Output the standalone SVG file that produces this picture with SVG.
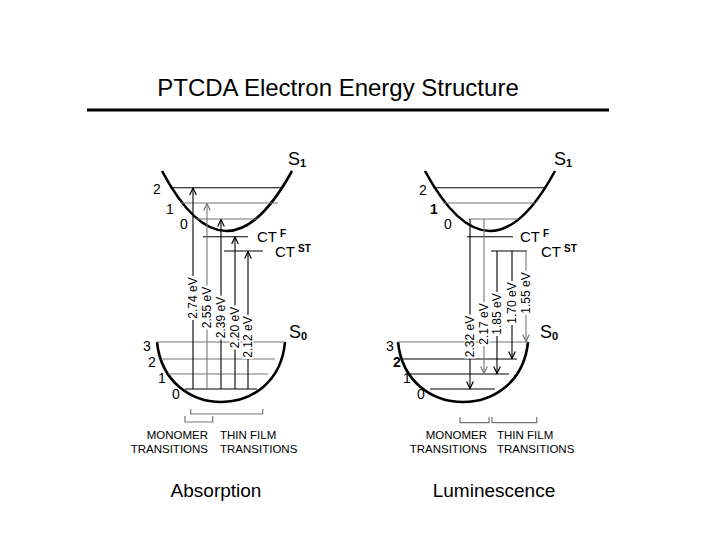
<svg xmlns="http://www.w3.org/2000/svg" width="720" height="540" viewBox="0 0 720 540">
<style>
text{font-family:"Liberation Sans",Arial,sans-serif;fill:#000}
.title{font-size:24px}
.cap{font-size:19px}
.lvl{font-size:14px}
.ev{font-size:12px}
.ct{font-size:15px}
.sup{font-size:10px;font-weight:bold}
.st{font-size:18px}
.sub{font-size:11px;font-weight:bold}
.tr{font-size:11.5px}
.curve{fill:none;stroke:#000;stroke-width:2.6}
.lk{stroke:#000;stroke-width:1.1;fill:none}
.lg{stroke:#777;stroke-width:1.1;fill:none}
.br{stroke:#777;stroke-width:1.2;fill:none}
.bg{fill:#fff}
</style>
<defs>
<marker id="ak" viewBox="-9 -5 10 10" refX="0" refY="0" markerWidth="10" markerHeight="10" markerUnits="userSpaceOnUse" orient="auto">
<path d="M-7,-3.3 L0,0 L-7,3.3" fill="none" stroke="#000" stroke-width="1.2"/>
</marker>
<marker id="ag" viewBox="-9 -5 10 10" refX="0" refY="0" markerWidth="10" markerHeight="10" markerUnits="userSpaceOnUse" orient="auto">
<path d="M-7,-3.3 L0,0 L-7,3.3" fill="none" stroke="#777" stroke-width="1.2"/>
</marker>
</defs>
<rect width="720" height="540" fill="#fff"/>

<g id="title">
<text class="title" x="338" y="96" text-anchor="middle">PTCDA Electron Energy Structure</text>
<line x1="87" y1="110" x2="609" y2="110" stroke="#000" stroke-width="3"/>
</g>

<!-- ========== Absorption ========== -->
<g id="abs-S1">
<path class="curve" d="M162,171 Q226,291 292,171"/>
<line class="lk" x1="170" y1="187.7" x2="282" y2="187.7"/>
<line class="lg" x1="181" y1="203" x2="278" y2="203"/>
<line class="lg" x1="196" y1="219" x2="258" y2="219"/>
<text class="lvl" x="153" y="194">2</text>
<text class="lvl" x="166" y="214">1</text>
<text class="lvl" x="180" y="229">0</text>
<text class="st" x="288" y="165">S<tspan class="sub" dy="2">1</tspan></text>
</g>
<g id="abs-CT">
<line class="lk" x1="203" y1="236.7" x2="248" y2="236.7"/>
<line class="lk" x1="224" y1="251" x2="263" y2="251"/>
<text class="ct" x="257" y="242">CT<tspan class="sup" dx="3" dy="-5">F</tspan></text>
<text class="ct" x="275" y="257">CT<tspan class="sup" dx="3" dy="-5">ST</tspan></text>
</g>
<g id="abs-S0">
<path class="curve" d="M157,342 C165,422 278,422 285,342"/>
<line class="lg" x1="157" y1="342" x2="285" y2="342"/>
<line class="lg" x1="161" y1="359" x2="275" y2="359"/>
<line class="lg" x1="168" y1="374" x2="268" y2="374"/>
<line class="lk" x1="185" y1="389" x2="257" y2="389"/>
<text class="lvl" x="143" y="351">3</text>
<text class="lvl" x="148" y="367">2</text>
<text class="lvl" x="158" y="383">1</text>
<text class="lvl" x="172" y="399">0</text>
<text class="st" x="289" y="338">S<tspan class="sub" dy="2">0</tspan></text>
</g>
<g id="abs-connectors">
<line class="lk" x1="193" y1="389" x2="193" y2="188" marker-end="url(#ak)"/>
<line class="lg" x1="207" y1="389" x2="207" y2="203.5" marker-end="url(#ag)"/>
<line class="lk" x1="221" y1="389" x2="221" y2="219.5" marker-end="url(#ak)"/>
<line class="lk" x1="235" y1="389" x2="235" y2="237" marker-end="url(#ak)"/>
<line class="lk" x1="248" y1="389" x2="248" y2="251.5" marker-end="url(#ak)"/>
</g>
<g id="abs-labels">
<rect class="bg" x="187.5" y="276" width="11" height="44"/>
<text class="ev" transform="translate(193,298) rotate(-90)" text-anchor="middle" dy="4.3">2.74 eV</text>
<rect class="bg" x="201.5" y="285.5" width="11" height="44"/>
<text class="ev" transform="translate(207,307.5) rotate(-90)" text-anchor="middle" dy="4.3">2.55 eV</text>
<rect class="bg" x="215.5" y="295.5" width="11" height="44"/>
<text class="ev" transform="translate(221,317.5) rotate(-90)" text-anchor="middle" dy="4.3">2.39 eV</text>
<rect class="bg" x="229.5" y="305.5" width="11" height="44"/>
<text class="ev" transform="translate(235,327.5) rotate(-90)" text-anchor="middle" dy="4.3">2.20 eV</text>
<rect class="bg" x="242.5" y="315" width="11" height="44"/>
<text class="ev" transform="translate(248,337) rotate(-90)" text-anchor="middle" dy="4.3">2.12 eV</text>
</g>
<g id="abs-brackets">
<path class="br" d="M185,416 V422 H212.7 V416"/>
<path class="br" d="M190.7,409 V414 H262.7 V409"/>
<text class="tr" x="208" y="438.5" text-anchor="end">MONOMER</text>
<text class="tr" x="208" y="453" text-anchor="end">TRANSITIONS</text>
<text class="tr" x="220" y="438.5">THIN FILM</text>
<text class="tr" x="220" y="453">TRANSITIONS</text>
<text class="cap" x="216" y="497" text-anchor="middle">Absorption</text>
</g>

<!-- ========== Luminescence ========== -->
<g id="lum-S1">
<path class="curve" d="M425,171 Q490,291 555,171"/>
<line class="lk" x1="433" y1="187.7" x2="546" y2="187.7"/>
<line class="lg" x1="443" y1="203" x2="535" y2="203"/>
<line class="lg" x1="469" y1="219" x2="518" y2="219"/>
<text class="lvl" x="419" y="195">2</text>
<text class="lvl" x="430" y="214" font-weight="bold">1</text>
<text class="lvl" x="444" y="229">0</text>
<text class="st" x="554" y="165">S<tspan class="sub" dy="2">1</tspan></text>
</g>
<g id="lum-CT">
<line class="lk" x1="467" y1="236.7" x2="513" y2="236.7"/>
<line class="lk" x1="491" y1="251" x2="527" y2="251"/>
<text class="ct" x="520" y="242">CT<tspan class="sup" dx="3" dy="-5">F</tspan></text>
<text class="ct" x="541" y="257">CT<tspan class="sup" dx="3" dy="-5">ST</tspan></text>
</g>
<g id="lum-S0">
<path class="curve" d="M398,342 C406,422 520,422 528,342"/>
<line class="lg" x1="398" y1="342" x2="528" y2="342"/>
<line class="lk" x1="403" y1="359" x2="517" y2="359"/>
<line class="lk" x1="409" y1="374" x2="509" y2="374"/>
<line class="lk" x1="430" y1="389" x2="495" y2="389"/>
<text class="lvl" x="386" y="351">3</text>
<text class="lvl" x="393" y="367" font-weight="bold">2</text>
<text class="lvl" x="403" y="383">1</text>
<text class="lvl" x="417" y="399">0</text>
<text class="st" x="540" y="338">S<tspan class="sub" dy="2">0</tspan></text>
</g>
<g id="lum-connectors">
<line class="lk" x1="470" y1="219" x2="470" y2="388.5" marker-end="url(#ak)"/>
<line class="lg" x1="484" y1="219" x2="484" y2="373.5" marker-end="url(#ag)"/>
<line class="lk" x1="497" y1="251" x2="497" y2="373.5" marker-end="url(#ak)"/>
<line class="lk" x1="512" y1="251" x2="512" y2="358.5" marker-end="url(#ak)"/>
<line class="lg" x1="526" y1="251" x2="526" y2="341.5" marker-end="url(#ag)"/>
</g>
<g id="lum-labels">
<rect class="bg" x="464.5" y="314.5" width="11" height="44"/>
<text class="ev" transform="translate(470,336.5) rotate(-90)" text-anchor="middle" dy="4.3">2.32 eV</text>
<rect class="bg" x="478.5" y="302" width="11" height="44"/>
<text class="ev" transform="translate(484,324) rotate(-90)" text-anchor="middle" dy="4.3">2.17 eV</text>
<rect class="bg" x="491.5" y="292" width="11" height="44"/>
<text class="ev" transform="translate(497,314) rotate(-90)" text-anchor="middle" dy="4.3">1.85 eV</text>
<rect class="bg" x="506.5" y="281" width="11" height="44"/>
<text class="ev" transform="translate(512,303) rotate(-90)" text-anchor="middle" dy="4.3">1.70 eV</text>
<rect class="bg" x="520.5" y="271" width="11" height="44"/>
<text class="ev" transform="translate(526,293) rotate(-90)" text-anchor="middle" dy="4.3">1.55 eV</text>
</g>
<g id="lum-brackets">
<path class="br" d="M460,417 V422.7 H489 V417"/>
<path class="br" d="M492,417 V422.7 H536.7 V417"/>
<text class="tr" x="487" y="438.5" text-anchor="end">MONOMER</text>
<text class="tr" x="487" y="453" text-anchor="end">TRANSITIONS</text>
<text class="tr" x="497" y="438.5">THIN FILM</text>
<text class="tr" x="497" y="453">TRANSITIONS</text>
<text class="cap" x="494" y="497" text-anchor="middle">Luminescence</text>
</g>
</svg>
